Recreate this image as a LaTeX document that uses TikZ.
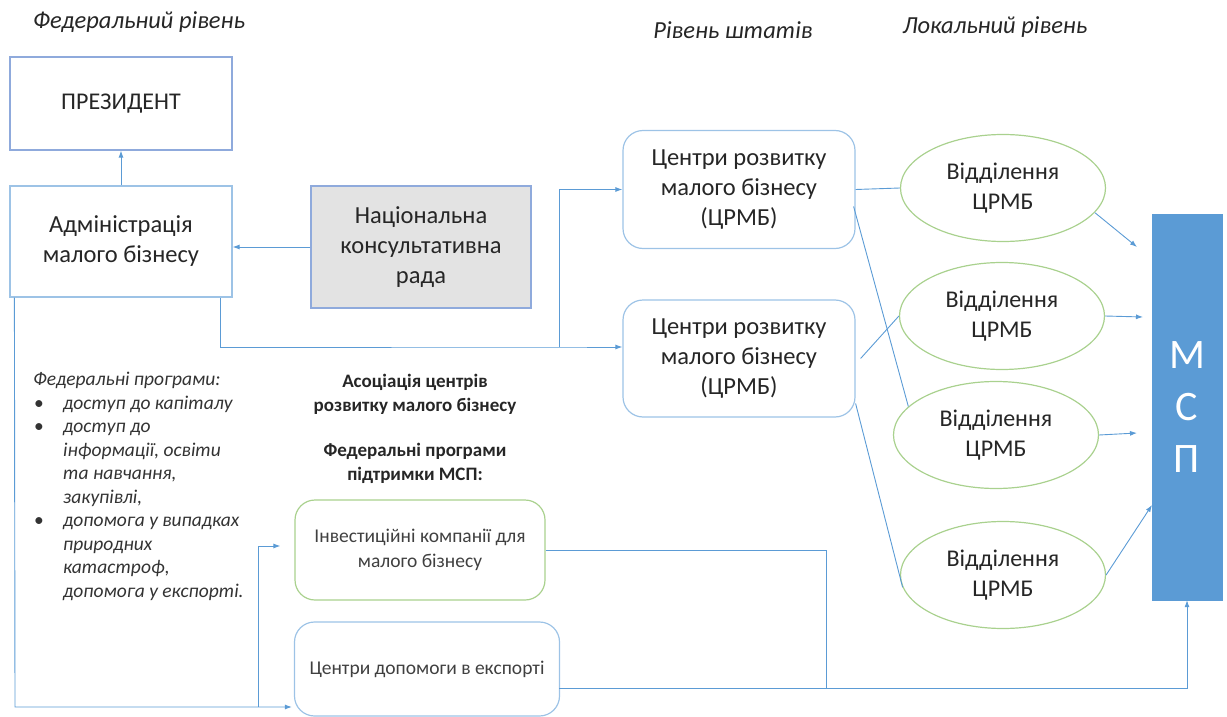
\documentclass[tikz,border=0pt]{standalone}
\usepackage{fontspec}
\setmainfont{Carlito}
\usetikzlibrary{arrows.meta,shapes.geometric,calc}
\definecolor{lnblue}{HTML}{5B9BD5}
\definecolor{bxblue}{HTML}{9DC3E6}
\definecolor{dkblue}{HTML}{8FAADC}
\definecolor{grn}{HTML}{A9D18E}
\definecolor{gry}{HTML}{E3E3E3}
\definecolor{txt}{HTML}{262626}
\tikzset{
  sqbox/.style={draw=bxblue, line width=1.2pt, inner sep=0pt, align=center, text=txt, font=\fontsize{24.5}{30}\selectfont},
  rbox/.style={draw=bxblue, line width=1.2pt, rounded corners=20pt, inner sep=0pt, align=center, text=txt, font=\fontsize{24.5}{30}\selectfont},
  ell/.style={draw=grn, line width=1.2pt, ellipse, inner sep=0pt, minimum width=205pt, minimum height=107pt, align=center, text=txt, font=\fontsize{24}{30}\selectfont},
  conn/.style={draw=lnblue, line width=0.9pt},
  arr/.style={conn, -{Latex[length=7pt,width=5pt]}},
  hdr/.style={text=txt, font=\fontsize{24.5}{28}\selectfont\itshape, inner sep=0pt},
}
\begin{document}
\begin{tikzpicture}[x=1pt,y=-1pt]
\useasboundingbox (0,0) rectangle (1227,717);
% headers
\node[hdr] (h1) at (139,22) {Федеральний рівень};
\node[hdr] (h2) at (733,30) {Рівень штатів};
\node[hdr] (h3) at (995,27) {Локальний рівень};
% federal boxes
\node[sqbox, draw=dkblue, minimum width=222pt, minimum height=93pt, font=\fontsize{24}{28}\selectfont] (pres) at (121,103.5) {ПРЕЗИДЕНТ};
\node[sqbox, minimum width=222pt, minimum height=111pt] (adm) at (121,241.5) {Адміністрація\\малого бізнесу};
\node[sqbox, draw=dkblue, fill=gry, minimum width=220pt, minimum height=122pt] (nac) at (421,247) {Національна\\консультативна\\рада};
% state
\node[rbox, minimum width=232pt, minimum height=118pt] (c1) at (739,189.5) {Центри розвитку\\малого бізнесу\\(ЦРМБ)};
\node[rbox, minimum width=232pt, minimum height=117pt] (c2) at (739,358.5) {Центри розвитку\\малого бізнесу\\(ЦРМБ)};
% local
\node[ell] (e1) at (1003,188) {Відділення\\ЦРМБ};
\node[ell] (e2) at (1002,316) {Відділення\\ЦРМБ};
\node[ell] (e3) at (996,435) {Відділення\\ЦРМБ};
\node[ell] (e4) at (1003,575) {Відділення\\ЦРМБ};
% MSP
\node[fill=lnblue, draw=lnblue, minimum width=70pt, minimum height=386pt, inner sep=0pt, align=center, text=white, font=\fontsize{42}{52}\selectfont] (msp) at (1187,407) {М\\С\\П};
% programs
\node[rbox, draw=grn, minimum width=250pt, minimum height=100pt, font=\fontsize{19.5}{25}\selectfont, text=black!75] (inv) at (420,550) {Інвестиційні компанії для\\малого бізнесу};
\node[rbox, minimum width=265pt, minimum height=94pt, font=\fontsize{19.5}{25}\selectfont, text=black!75] (exp) at (427,669) {Центри допомоги в експорті};
% texts
\node[inner sep=0pt, align=center, text=txt, font=\fontsize{19}{24.5}\selectfont\bfseries] (assoc) at (415,394.5) {Асоціація центрів\\розвитку малого бізнесу};
\node[inner sep=0pt, align=center, text=txt, font=\fontsize{19}{23.5}\selectfont\bfseries] (fedp) at (415,463.5) {Федеральні програми\\підтримки МСП:};
\node[inner sep=0pt, anchor=north west, align=left, text=black!80, font=\fontsize{19.5}{23.5}\selectfont\itshape] (list) at (33,372) {Федеральні програми:\\
\hspace*{1pt}\makebox[29pt][l]{\upshape•}доступ до капіталу\\
\hspace*{1pt}\makebox[29pt][l]{\upshape•}доступ до\\
\hspace*{30pt}інформації, освіти\\
\hspace*{30pt}та навчання,\\
\hspace*{30pt}закупівлі,\\
\hspace*{1pt}\makebox[29pt][l]{\upshape•}допомога у випадках\\
\hspace*{30pt}природних\\
\hspace*{30pt}катастроф,\\
\hspace*{30pt}допомога у експорті.};
% coordinates
\coordinate (j1) at (559,347);
\coordinate (a1) at ($(adm.south east)+(-12,0)$);
\coordinate (a2) at ($(adm.south west)+(5,0)$);
\coordinate (j2) at (15,707);
\coordinate (j3) at (258,707);
\coordinate (j5) at (559,688);
\coordinate (j6) at (826,688);
\coordinate (m1) at (1137,247);
\coordinate (m2) at (1143,317);
\coordinate (m3) at (1137,433);
\coordinate (m4) at (1152,505);
% connectors
\draw[arr] (adm.north) -- (pres.south);
\draw[arr] (nac.west) -- (nac.west -| adm.east);
\draw[arr] (a1) |- (j1) -- (j1 -| c2.west);
\draw[arr] (j1) |- (c1.west);
\draw[arr] (a2) -- (j2) -- ($(j2 -| exp.west)+(-2,0)$);
\draw[arr] (j3) |- ($(inv.west)+(-14,-4)$);
\draw[conn] (inv.east) -| (j6);
\draw[arr] (j5) -| (msp.south);
\draw[conn] (c1.east) -- (e1.west);
\draw[conn] ($(c1.east)+(-2,17)$) -- (e3.162);
\draw[conn] ($(c2.east)+(5,0)$) -- (e2.west);
\draw[conn] ($(c2.east)+(0,45)$) -- (e4.187);
\draw[arr] (e1.-15) -- (m1);
\draw[arr] (e2.east) -- (m2);
\draw[arr] (e3.east) -- (m3);
\draw[arr] (e4.east) -- (m4);
\end{tikzpicture}
\end{document}
